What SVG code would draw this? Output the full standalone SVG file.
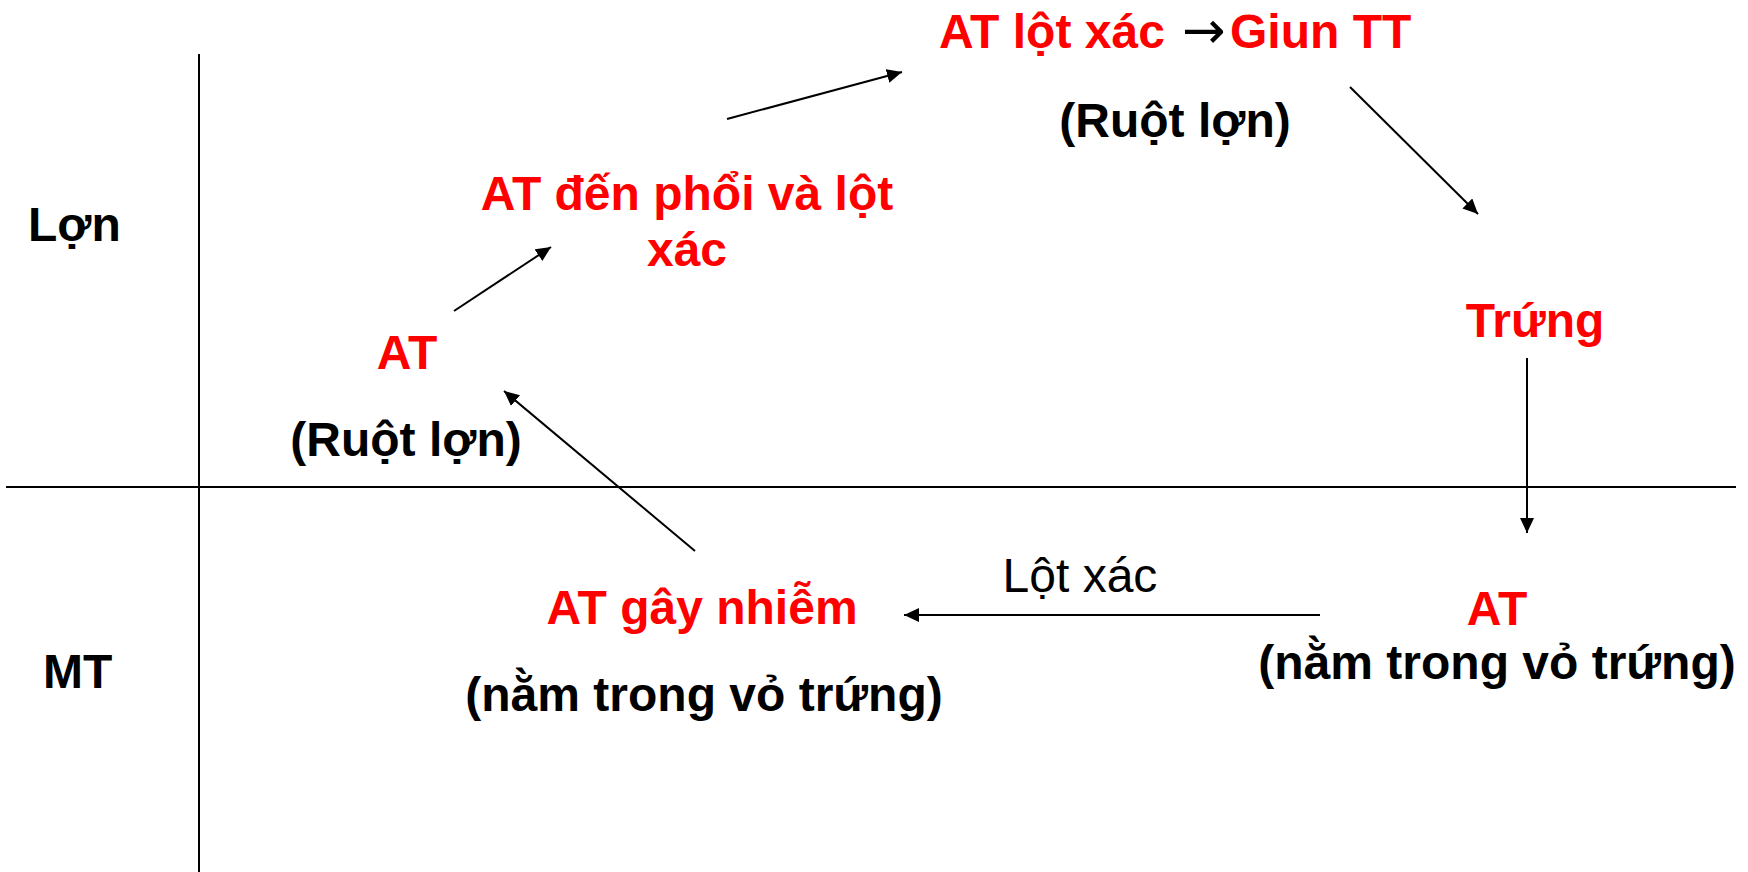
<svg xmlns="http://www.w3.org/2000/svg" width="1748" height="872" viewBox="0 0 1748 872">
  <style>
    text { font-family: "Liberation Sans", Arial, sans-serif; font-size: 48px; }
    .b { font-weight: bold; }
    .red { fill: #ff0000; }
    .blk { fill: #000000; }
    .c { text-anchor: middle; }
    .arr { font-family: "DejaVu Sans", sans-serif; font-weight: normal; font-size: 52px; }
    .axis { stroke: #000; stroke-width: 2; fill: none; }
    .conn { stroke: #000; stroke-width: 2; fill: none; marker-end: url(#ah); }
  </style>
  <defs>
    <marker id="ah" markerUnits="userSpaceOnUse" markerWidth="16" markerHeight="16" refX="15" refY="7" orient="auto">
      <path d="M0,0 L15,7 L0,14 z" fill="#000"/>
    </marker>
  </defs>
  <rect width="1748" height="872" fill="#fff"/>

  <g id="axes">
    <line class="axis" x1="199" y1="54" x2="199" y2="872"/>
    <line class="axis" x1="6" y1="487" x2="1736" y2="487"/>
  </g>

  <g id="connectors">
    <line class="conn" x1="454" y1="311" x2="551" y2="247"/>
    <line class="conn" x1="727" y1="119" x2="902" y2="72"/>
    <line class="conn" x1="1350" y1="87" x2="1478" y2="214"/>
    <line class="conn" x1="1527" y1="358" x2="1527" y2="533"/>
    <line class="conn" x1="1320" y1="615" x2="904" y2="615"/>
    <line class="conn" x1="695" y1="551" x2="504" y2="391"/>
    <text class="blk" x="1080" y="592" font-size="47" text-anchor="middle">Lột xác</text>
  </g>

  <g id="label-lon">
    <text class="b blk" x="28" y="241">Lợn</text>
  </g>
  <g id="label-mt">
    <text class="b blk" x="43" y="688">MT</text>
  </g>

  <g id="node-at-ruot">
    <text class="b red c" x="407" y="369">AT</text>
    <text class="b blk c" x="406" y="456">(Ruột lợn)</text>
  </g>

  <g id="node-phoi">
    <text class="b red c" x="687" y="210">AT đến phổi và lột</text>
    <text class="b red c" x="687" y="266">xác</text>
  </g>

  <g id="node-giun">
    <text class="b" x="939" y="48"><tspan class="red">AT lột xác </tspan><tspan class="blk arr" x="1182">→</tspan><tspan class="red" x="1230">Giun TT</tspan></text>
    <text class="b blk c" x="1175" y="137">(Ruột lợn)</text>
  </g>

  <g id="node-trung">
    <text class="b red c" x="1535" y="337">Trứng</text>
  </g>

  <g id="node-at-vo">
    <text class="b red c" x="1497" y="625">AT</text>
    <text class="b blk c" x="1497" y="679">(nằm trong vỏ trứng)</text>
  </g>

  <g id="node-gay-nhiem">
    <text class="b red c" x="702" y="624">AT gây nhiễm</text>
    <text class="b blk c" x="704" y="711">(nằm trong vỏ trứng)</text>
  </g>
</svg>
